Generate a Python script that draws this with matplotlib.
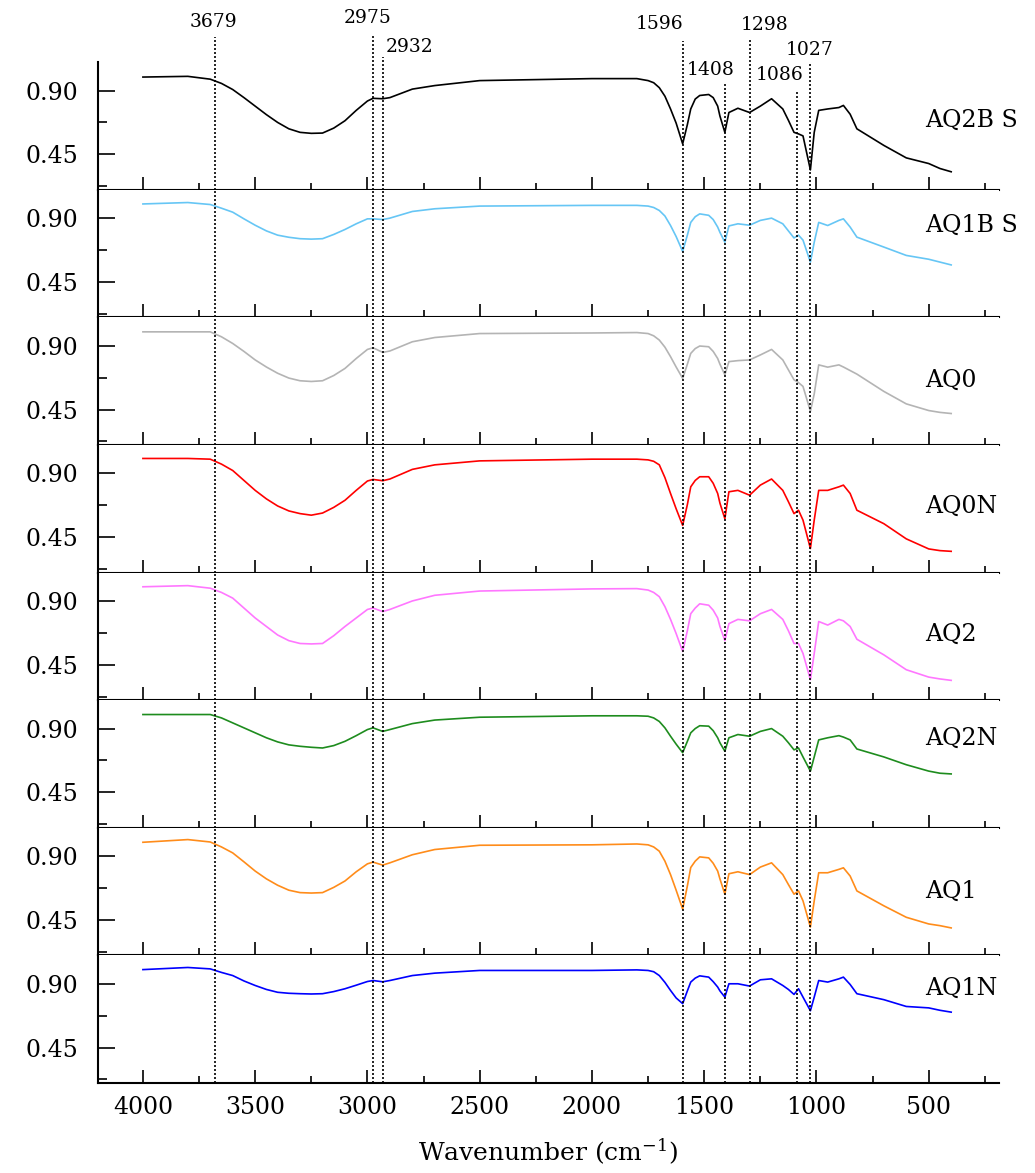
import matplotlib
matplotlib.use("Agg")
import matplotlib.pyplot as plt
from matplotlib.ticker import MultipleLocator, FixedLocator, FormatStrFormatter
from matplotlib.transforms import blended_transform_factory

plt.rcParams['font.family'] = ['DejaVu Serif']
plt.rcParams['mathtext.fontset'] = 'dejavuserif'

# ---------------- data ----------------
wavenumber = [4000, 3800, 3700, 3650, 3600, 3550, 3500, 3450, 3400, 3350,
              3300, 3250, 3200, 3150, 3100, 3050, 3000, 2975, 2932, 2900,
              2800, 2700, 2500, 2000, 1800, 1750, 1725, 1700, 1675, 1650,
              1625, 1596, 1575, 1560, 1540, 1520, 1480, 1460, 1440, 1430,
              1408, 1390, 1350, 1298, 1250, 1200, 1150, 1125, 1100, 1080,
              1060, 1027, 1010, 990, 950, 900, 880, 850, 820, 700,
              600, 500, 450, 400]

aq2bs = [0.995, 1.0, 0.98, 0.95, 0.907, 0.85, 0.79, 0.73, 0.675, 0.63,
         0.605, 0.598, 0.60, 0.635, 0.687, 0.76, 0.826, 0.845, 0.842, 0.85,
         0.91, 0.935, 0.97, 0.984, 0.984, 0.97, 0.955, 0.92, 0.86, 0.77,
         0.67, 0.524, 0.66, 0.77, 0.84, 0.865, 0.872, 0.85, 0.79, 0.72,
         0.605, 0.745, 0.775, 0.745, 0.79, 0.842, 0.77, 0.69, 0.605, 0.594,
         0.58, 0.34, 0.605, 0.76, 0.77, 0.78, 0.795, 0.733, 0.63, 0.513,
         0.425, 0.385, 0.35, 0.327]

aq1bs = [1.0, 1.01, 0.996, 0.97, 0.942, 0.895, 0.85, 0.81, 0.78, 0.765,
         0.755, 0.752, 0.755, 0.785, 0.82, 0.86, 0.895, 0.895, 0.89, 0.90,
         0.947, 0.966, 0.985, 0.99, 0.99, 0.985, 0.975, 0.954, 0.915, 0.848,
         0.77, 0.665, 0.78, 0.87, 0.91, 0.93, 0.92, 0.89, 0.837, 0.80,
         0.73, 0.845, 0.86, 0.85, 0.884, 0.90, 0.86, 0.81, 0.76, 0.78,
         0.745, 0.59, 0.73, 0.87, 0.848, 0.884, 0.895, 0.837, 0.766, 0.696,
         0.637, 0.61, 0.59, 0.57]

aq0 = [0.998, 0.998, 0.998, 0.963, 0.916, 0.86, 0.80, 0.75, 0.706, 0.672,
       0.653, 0.648, 0.653, 0.69, 0.74, 0.81, 0.874, 0.886, 0.853, 0.863,
       0.928, 0.958, 0.986, 0.99, 0.993, 0.986, 0.97, 0.94, 0.89, 0.823,
       0.75, 0.67, 0.77, 0.846, 0.88, 0.898, 0.893, 0.86, 0.81, 0.77,
       0.695, 0.788, 0.795, 0.80, 0.835, 0.874, 0.80, 0.73, 0.66, 0.64,
       0.613, 0.438, 0.56, 0.765, 0.749, 0.765, 0.75, 0.725, 0.70, 0.578,
       0.49, 0.443, 0.43, 0.422]

aq0n = [1.005, 1.005, 1.0, 0.965, 0.92, 0.85, 0.78, 0.72, 0.67, 0.635,
        0.616, 0.605, 0.62, 0.66, 0.71, 0.78, 0.846, 0.857, 0.848, 0.86,
        0.928, 0.96, 0.988, 1.0, 1.0, 0.995, 0.985, 0.96, 0.87, 0.758,
        0.65, 0.533, 0.68, 0.805, 0.85, 0.876, 0.876, 0.83, 0.758, 0.69,
        0.58, 0.77, 0.78, 0.746, 0.817, 0.86, 0.78, 0.70, 0.616, 0.64,
        0.57, 0.37, 0.57, 0.78, 0.78, 0.805, 0.817, 0.758, 0.64, 0.545,
        0.438, 0.367, 0.355, 0.35]

aq2 = [1.0, 1.008, 0.99, 0.96, 0.92, 0.85, 0.78, 0.72, 0.66, 0.62,
       0.60, 0.597, 0.60, 0.655, 0.72, 0.78, 0.84, 0.85, 0.825, 0.84,
       0.90, 0.94, 0.97, 0.985, 0.987, 0.977, 0.96, 0.93, 0.86, 0.77,
       0.67, 0.544, 0.69, 0.81, 0.85, 0.88, 0.87, 0.835, 0.78, 0.72,
       0.62, 0.74, 0.77, 0.76, 0.81, 0.84, 0.77, 0.69, 0.60, 0.60,
       0.53, 0.345, 0.53, 0.755, 0.73, 0.77, 0.76, 0.72, 0.63, 0.52,
       0.415, 0.363, 0.35, 0.34]

aq2n = [0.999, 0.999, 0.999, 0.975, 0.94, 0.905, 0.87, 0.835, 0.806, 0.785,
        0.775, 0.768, 0.763, 0.78, 0.81, 0.85, 0.893, 0.905, 0.88, 0.893,
        0.935, 0.96, 0.98, 0.99, 0.99, 0.987, 0.975, 0.95, 0.905, 0.846,
        0.79, 0.73, 0.81, 0.87, 0.90, 0.92, 0.917, 0.885, 0.835, 0.80,
        0.74, 0.835, 0.858, 0.846, 0.88, 0.90, 0.846, 0.80, 0.75, 0.763,
        0.70, 0.60, 0.70, 0.82, 0.835, 0.85, 0.84, 0.82, 0.756, 0.70,
        0.645, 0.60, 0.585, 0.58]

aq1 = [0.998, 1.017, 1.0, 0.965, 0.923, 0.86, 0.795, 0.74, 0.695, 0.66,
       0.643, 0.64, 0.643, 0.68, 0.725, 0.79, 0.846, 0.858, 0.837, 0.853,
       0.91, 0.947, 0.977, 0.98, 0.986, 0.98, 0.965, 0.935, 0.865, 0.77,
       0.66, 0.527, 0.69, 0.82, 0.865, 0.895, 0.888, 0.85, 0.795, 0.74,
       0.632, 0.776, 0.79, 0.77, 0.823, 0.853, 0.77, 0.70, 0.632, 0.655,
       0.585, 0.40, 0.585, 0.783, 0.783, 0.807, 0.818, 0.76, 0.655, 0.55,
       0.469, 0.422, 0.41, 0.394]

aq1n = [1.0, 1.015, 1.005, 0.98, 0.958, 0.92, 0.888, 0.86, 0.84, 0.833,
        0.83, 0.828, 0.83, 0.845, 0.865, 0.89, 0.916, 0.923, 0.914, 0.923,
        0.958, 0.975, 0.994, 0.994, 0.998, 0.994, 0.985, 0.958, 0.91, 0.853,
        0.80, 0.76, 0.85, 0.912, 0.94, 0.956, 0.947, 0.915, 0.877, 0.85,
        0.806, 0.90, 0.90, 0.884, 0.928, 0.935, 0.888, 0.86, 0.825, 0.865,
        0.806, 0.71, 0.806, 0.923, 0.912, 0.935, 0.947, 0.895, 0.83, 0.788,
        0.74, 0.73, 0.713, 0.70]

series_names = ["AQ2B S", "AQ1B S", "AQ0", "AQ0N", "AQ2", "AQ2N", "AQ1", "AQ1N"]
series_values = [aq2bs, aq1bs, aq0, aq0n, aq2, aq2n, aq1, aq1n]
series_colors = ["#000000", "#66c6f5", "#b4b4b4", "#ff0000",
                 "#ff77ff", "#1e8c1e", "#ff8c1a", "#0000ff"]
label_ypos = [0.545, 0.72, 0.51, 0.52, 0.52, 0.70, 0.50, 0.74]

peaks = [3679, 2975, 2932, 1596, 1408, 1298, 1086, 1027]
peak_labels = ["3679", "2975", "2932", "1596", "1408", "1298", "1086", "1027"]
# label x (data units), label y (axes fraction of top panel), line top (axes fraction)
peak_label_x = [3684, 2998, 2811, 1698, 1471, 1231, 1164, 1030]
peak_label_y = [1.313, 1.345, 1.118, 1.298, 0.937, 1.29, 0.898, 1.094]
peak_line_top = [1.196, 1.204, 1.04, 1.165, 0.843, 1.172, 0.78, 0.984]

xticks_major = [4000, 3500, 3000, 2500, 2000, 1500, 1000, 500]

# ---------------- figure ----------------
fig = plt.figure(figsize=(10.35, 11.73), dpi=100)
gs = fig.add_gridspec(8, 1, left=0.0947, right=0.965, bottom=0.0767,
                      top=0.947, hspace=0)
axes = [fig.add_subplot(gs[i, 0]) for i in range(8)]

dot = (0, (1.2, 1.2))
for i, ax in enumerate(axes):
    ax.plot(wavenumber, series_values[i], color=series_colors[i], lw=1.2)
    ax.set_xlim(4200, 188)
    ax.set_ylim(0.2, 1.1)
    for s in ("top", "right"):
        ax.spines[s].set_visible(False)
    for s in ("left", "bottom"):
        ax.spines[s].set_linewidth(1.5)
    ax.xaxis.set_major_locator(FixedLocator(xticks_major))
    ax.xaxis.set_minor_locator(MultipleLocator(250))
    ax.yaxis.set_major_locator(FixedLocator([0.45, 0.90]))
    ax.yaxis.set_minor_locator(FixedLocator([0.225, 0.675]))
    ax.yaxis.set_major_formatter(FormatStrFormatter('%.2f'))
    ax.tick_params(axis='x', which='major', direction='in', length=9.5, width=1.2,
                   labelsize=17, pad=9)
    ax.tick_params(axis='x', which='minor', direction='in', length=5, width=1.2)
    ax.tick_params(axis='y', which='major', direction='in', length=12, width=1.2,
                   labelsize=17, pad=14)
    ax.tick_params(axis='y', which='minor', direction='in', length=6.5, width=1.2)
    if i < 7:
        ax.tick_params(axis='x', labelbottom=False)
    ax.text(518, label_ypos[i], series_names[i],
            transform=blended_transform_factory(ax.transData, ax.transAxes),
            ha='left', va='center', fontsize=17, clip_on=False)
    for j, p in enumerate(peaks):
        if i == 0:
            ax.axvline(p, ymin=0, ymax=peak_line_top[j], color='black',
                       ls=dot, lw=1.2, clip_on=False, zorder=3)
        else:
            ax.axvline(p, color='black', ls=dot, lw=1.2, zorder=3)

top = axes[0]
tr = blended_transform_factory(top.transData, top.transAxes)
for j in range(len(peaks)):
    top.text(peak_label_x[j], peak_label_y[j], peak_labels[j], transform=tr,
             ha='center', va='center', fontsize=13.5, clip_on=False)

axes[-1].set_xlabel("Wavenumber (cm$^{-1}$)", fontsize=18, labelpad=13)

fig.savefig("out.png", dpi=100)
